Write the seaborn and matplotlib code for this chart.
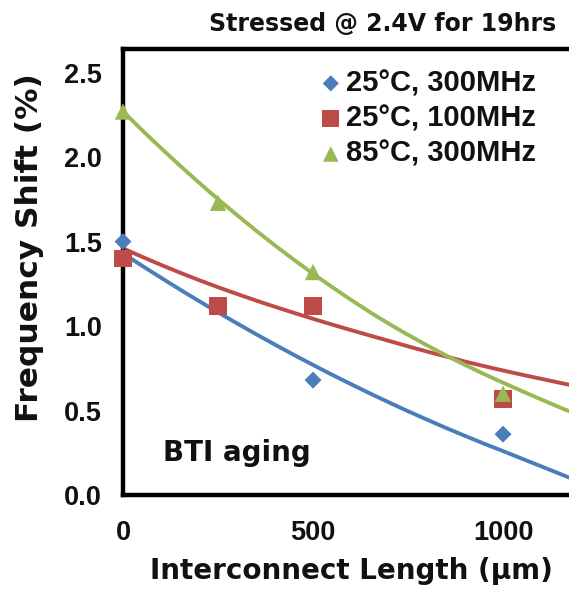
import matplotlib
matplotlib.use("Agg")
import matplotlib.pyplot as plt
import seaborn as sns

# ---- data ----
lengths = [0, 250, 500, 1000]
blue_300 = [1.50, 1.12, 0.68, 0.36]   # 25°C, 300MHz
red_100 = [1.40, 1.12, 1.12, 0.57]    # 25°C, 100MHz
green_300 = [2.27, 1.73, 1.32, 0.60]  # 85°C, 300MHz

# trend lines (every 50 µm)
trend_x = [0, 50, 100, 150, 200, 250, 300, 350, 400, 450, 500, 550, 600,
           650, 700, 750, 800, 850, 900, 950, 1000, 1050, 1100, 1150, 1200]
blue_trend = [1.430, 1.357, 1.286, 1.216, 1.148, 1.081, 1.016, 0.952, 0.890, 0.829, 0.770,
              0.712, 0.656, 0.601, 0.548, 0.496, 0.446, 0.397, 0.350, 0.304, 0.260,
              0.215, 0.170, 0.125, 0.080]
red_trend = [1.460, 1.410, 1.362, 1.316, 1.272, 1.230, 1.190, 1.151, 1.114, 1.078, 1.043,
             1.009, 0.976, 0.944, 0.912, 0.880, 0.849, 0.820, 0.790, 0.763, 0.737,
             0.712, 0.688, 0.664, 0.640]
green_trend = [2.270, 2.160, 2.053, 1.949, 1.849, 1.751, 1.657, 1.565, 1.477, 1.392, 1.310,
               1.231, 1.155, 1.082, 1.013, 0.948, 0.886, 0.826, 0.770, 0.716, 0.665,
               0.615, 0.566, 0.518, 0.472]

labels = ["25°C, 300MHz", "25°C, 100MHz", "85°C, 300MHz"]
x_ticks = [0, 500, 1000]
y_ticks = [0.0, 0.5, 1.0, 1.5, 2.0, 2.5]

BLUE = "#4A7EBB"
RED = "#BE4B48"
GREEN = "#98B954"
INK = "#111111"

sns.set_theme(style="white")
plt.rcParams["font.family"] = ["Liberation Sans", "DejaVu Sans"]
WIDE = ["DejaVu Sans"]

fig = plt.figure(figsize=(5.69, 5.90), dpi=100)
ax = fig.add_axes([0.2162, 0.161, 0.8014, 0.756])

sns.lineplot(x=trend_x, y=blue_trend, color=BLUE, lw=2.8, ax=ax, zorder=2)
sns.lineplot(x=trend_x, y=red_trend, color=RED, lw=2.8, ax=ax, zorder=2)
sns.lineplot(x=trend_x, y=green_trend, color=GREEN, lw=2.8, ax=ax, zorder=2)

sns.scatterplot(x=lengths, y=blue_300, marker="D", s=75, color=BLUE,
                edgecolor="none", ax=ax, zorder=3, label=labels[0], clip_on=False)
sns.scatterplot(x=lengths, y=red_100, marker="s", s=165, color=RED,
                edgecolor="none", ax=ax, zorder=4, label=labels[1], clip_on=False)
sns.scatterplot(x=lengths, y=green_300, marker="^", s=140, color=GREEN,
                edgecolor="none", ax=ax, zorder=5, label=labels[2], clip_on=False)

ax.set_xlim(0, 1200)
ax.set_ylim(0, 2.64)
ax.set_xticks(x_ticks)
ax.set_yticks(y_ticks)
ax.set_yticklabels([f"{v:.1f}" for v in y_ticks])

for side in ["left", "bottom", "top"]:
    ax.spines[side].set_color("black")
    ax.spines[side].set_linewidth(3.2)
ax.spines["right"].set_visible(False)

ax.tick_params(axis="both", direction="out", length=6, width=2, color="black",
               labelsize=19.5, labelcolor=INK)
ax.tick_params(axis="x", pad=12)
ax.tick_params(axis="y", pad=9)
for lab in ax.get_xticklabels() + ax.get_yticklabels():
    lab.set_fontweight("bold")

ax.set_xlabel("Interconnect Length (μm)", fontsize=20, fontweight="bold",
              color=INK, family=WIDE)
ax.xaxis.set_label_coords(0.5, -0.139)
ax.set_ylabel("Frequency Shift (%)", fontsize=22.5, fontweight="bold",
              color=INK, family=WIDE)
ax.yaxis.set_label_coords(-0.173, 0.554)

leg = ax.legend(loc="upper left", bbox_to_anchor=(0.43, 0.955), frameon=False,
                fontsize=21, handletextpad=0.12, labelspacing=0.25,
                borderaxespad=0, borderpad=0, handlelength=0.8, markerscale=0.95)
for t in leg.get_texts():
    t.set_fontweight("bold")
    t.set_color(INK)

ax.text(40 / 456, (495 - 453) / 446, "BTI aging", transform=ax.transAxes,
        fontsize=20, fontweight="bold", color=INK, ha="left", va="center",
        family=WIDE)

fig.text(556 / 569, 1 - 24 / 590, "Stressed @ 2.4V for 19hrs", fontsize=17,
         fontweight="bold", color=INK, ha="right", va="center", family=WIDE)

fig.savefig("out.png", dpi=100, facecolor="white")
